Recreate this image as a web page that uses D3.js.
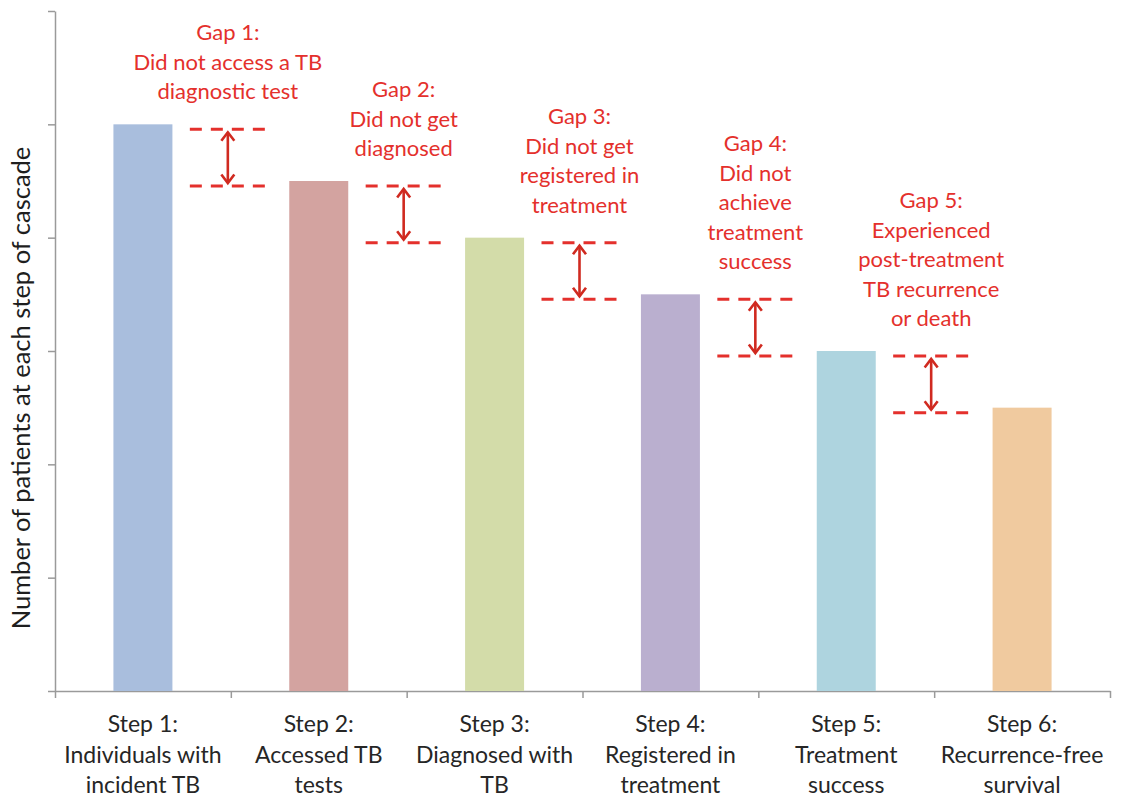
<!DOCTYPE html>
<html>
<head>
<meta charset="utf-8">
<script src="https://cdn.jsdelivr.net/npm/d3@7"></script>
<style>
  body { margin: 0; background: #fff; }
  text { font-family: Lato, "Open Sans", "DejaVu Sans", sans-serif; }
</style>
</head>
<body>
<svg id="chart" width="1130" height="800"></svg>
<script>
// Steps of the TB care cascade (label lines per step)
const stepLabels = [
  ["Step 1:", "Individuals with", "incident TB"],
  ["Step 2:", "Accessed TB", "tests"],
  ["Step 3:", "Diagnosed with", "TB"],
  ["Step 4:", "Registered in", "treatment"],
  ["Step 5:", "Treatment", "success"],
  ["Step 6:", "Recurrence-free", "survival"]
];
// Schematic number of patients remaining at each step
const patients = [5, 4.5, 4, 3.5, 3, 2.5];
const barColors = ["#a9bedd", "#d3a3a0", "#d3dca9", "#baafcf", "#aed4df", "#f0ca9f"];
// Losses between consecutive steps
const gapLabels = [
  ["Gap 1:", "Did not access a TB", "diagnostic test"],
  ["Gap 2:", "Did not get", "diagnosed"],
  ["Gap 3:", "Did not get", "registered in", "treatment"],
  ["Gap 4:", "Did not", "achieve", "treatment", "success"],
  ["Gap 5:", "Experienced", "post-treatment", "TB recurrence", "or death"]
];
const yTicks = [0, 1, 2, 3, 4, 5, 6];

const svg = d3.select("#chart");
const plotLeft = 55, plotRight = 1110, plotTop = 11, plotBottom = 691;

const y = d3.scaleLinear().domain([0, 6]).range([plotBottom, plotTop]);
const x = d3.scaleBand().domain(d3.range(stepLabels.length))
  .range([plotLeft, plotRight]).paddingInner(0.6645).paddingOuter(0.6645 / 2);
// Category boundaries for the x-axis tick marks
const xEdge = d3.scaleLinear().domain([0, stepLabels.length]).range([plotLeft, plotRight]);

const axisColor = "#9a9a9a";

// Y axis (no tick labels)
const yAxis = svg.append("g").attr("transform", `translate(${plotLeft},0)`)
  .call(d3.axisLeft(y).tickValues(yTicks).tickSize(7).tickSizeOuter(0).tickFormat(""));
yAxis.selectAll("path,line").attr("stroke", axisColor).attr("stroke-width", 1.5);

// X axis with ticks on category boundaries
const xAxis = svg.append("g").attr("transform", `translate(0,${plotBottom})`)
  .call(d3.axisBottom(xEdge).tickValues(d3.range(stepLabels.length + 1)).tickSize(7).tickSizeOuter(0).tickFormat(""));
xAxis.selectAll("path,line").attr("stroke", axisColor).attr("stroke-width", 1.5);

// Bars
svg.append("g").selectAll("rect").data(patients).join("rect")
  .attr("x", (d, i) => x(i))
  .attr("y", d => y(d))
  .attr("width", x.bandwidth())
  .attr("height", d => y(0) - y(d))
  .attr("fill", (d, i) => barColors[i]);

// Category labels
const catG = svg.append("g").attr("fill", "#262626").attr("font-size", 23).attr("text-anchor", "middle");
stepLabels.forEach((lines, i) => {
  const cx = x(i) + x.bandwidth() / 2;
  const t = catG.append("text");
  lines.forEach((ln, k) => {
    t.append("tspan").attr("x", cx).attr("y", 732 + k * 30.5).text(ln);
  });
});

// Y axis title
svg.append("text")
  .attr("transform", `translate(30,${(plotTop + plotBottom) / 2 + 37}) rotate(-90)`)
  .attr("text-anchor", "middle")
  .attr("font-size", 25.5)
  .attr("fill", "#1e1e1e")
  .text("Number of patients at each step of cascade");

// Gap annotations: dashed levels, double-headed arrow and label
const red = "#e4302c";
const arrowRed = "#d02a20";
const gapG = svg.append("g");
gapLabels.forEach((lines, i) => {
  const cx = xEdge(i + 1) - 3;
  const y1 = y(patients[i]) + 5;
  const y2 = y(patients[i + 1]) + 5;
  [y1, y2].forEach(yy => {
    gapG.append("line")
      .attr("x1", cx - 38).attr("x2", cx + 38)
      .attr("y1", yy).attr("y2", yy)
      .attr("stroke", red).attr("stroke-width", 3)
      .attr("stroke-dasharray", "12,9");
  });
  const a1 = y1 + 3, a2 = y2 - 3;
  gapG.append("line").attr("x1", cx).attr("x2", cx).attr("y1", a1).attr("y2", a2)
    .attr("stroke", arrowRed).attr("stroke-width", 2.6);
  gapG.append("path")
    .attr("d", `M${cx - 6.5},${a1 + 8.5}L${cx},${a1}L${cx + 6.5},${a1 + 8.5}` +
               `M${cx - 6.5},${a2 - 8.5}L${cx},${a2}L${cx + 6.5},${a2 - 8.5}`)
    .attr("fill", "none").attr("stroke", arrowRed).attr("stroke-width", 2.6)
    .attr("stroke-linejoin", "miter");

  const lastY = y(patients[i]) - 33;
  const t = gapG.append("text").attr("text-anchor", "middle").attr("font-size", 22).attr("fill", red);
  lines.forEach((ln, k) => {
    const cy = lastY - (lines.length - 1 - k) * 29.5;
    t.append("tspan").attr("x", cx).attr("y", cy + 8).text(ln);
  });
});
</script>
</body>
</html>
